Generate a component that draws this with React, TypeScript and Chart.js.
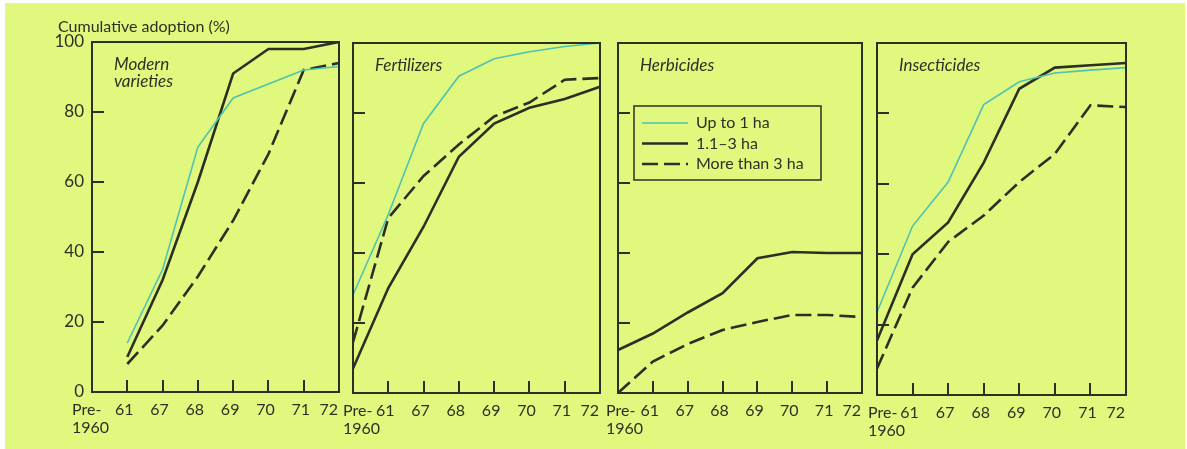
import React, { useEffect, useRef } from "react";
import { Chart, registerables } from "chart.js";
Chart.register(...registerables);

// ---------- data ----------
const categories: (string | string[])[] = [["Pre-", "1960"], "61", "67", "68", "69", "70", "71", "72"];
const seriesNames = ["Up to 1 ha", "1.1–3 ha", "More than 3 ha"];
const yAxisTitle = "Cumulative adoption (%)";
const panelTitles = [["Modern", "varieties"], ["Fertilizers"], ["Herbicides"], ["Insecticides"]];

const modernSmall = [null, 14, 35, 70, 84, 88, 92, 93];
const modernMedium = [null, 10, 32, 60, 91, 98, 98, 100];
const modernLarge = [null, 8, 19, 33, 49, 68, 92, 94];

const fertSmall = [28, 51, 77, 90.5, 95.5, 97.5, 99, 100];
const fertMedium = [7, 30, 47.5, 67.5, 77, 81.5, 84, 87.5];
const fertLarge = [14.5, 50, 62, 71, 79, 83, 89.5, 90];

const herbSmall = [null, null, null, null, null, null, null, null];
const herbMedium = [12.3, 17, 23, 28.5, 38.5, 40.3, 40, 40];
const herbLarge = [0, 9, 14, 18, 20.3, 22.3, 22.3, 21.7];

const insSmall = [23.5, 48, 60.5, 82.5, 89, 91.5, 92.3, 93];
const insMedium = [15.5, 40, 49, 66, 87, 93, 93.7, 94.3];
const insLarge = [7.5, 30.5, 43.5, 51, 60.5, 68.5, 82.3, 81.8];

const yMin = 0;
const yMax = 100;
const yStep = 20;

// ---------- styles ----------
const W = 1187;
const H = 449;
const BG = "#e0f87e";
const DARK = "#2c3024";
const CYAN = "#4fc2b2";
const FONT = "Lato, 'Noto Sans', sans-serif";

type PanelGeom = { left: number; right: number; top: number; bottom: number; L: number; R: number; firstDx: number };
const geoms: PanelGeom[] = [
  { left: 92, right: 339, top: 42, bottom: 392, L: 50, R: 16, firstDx: 20 },
  { left: 353, right: 600, top: 43, bottom: 393, L: 36, R: 16, firstDx: 10 },
  { left: 618, right: 862, top: 43, bottom: 393, L: 36, R: 16, firstDx: 12 },
  { left: 877, right: 1126, top: 43, bottom: 395, L: 36, R: 16, firstDx: 9 },
];

const panelData = [
  [modernSmall, modernMedium, modernLarge],
  [fertSmall, fertMedium, fertLarge],
  [herbSmall, herbMedium, herbLarge],
  [insSmall, insMedium, insLarge],
];

function makeDecor(idx: number) {
  const g = geoms[idx];
  return {
    id: "decor" + idx,
    afterDraw(chart: any) {
      const ctx = chart.ctx as CanvasRenderingContext2D;
      const a = chart.chartArea;
      const xs = chart.scales.x;
      const ys = chart.scales.y;
      ctx.save();
      ctx.strokeStyle = DARK;
      ctx.lineWidth = 2;
      ctx.setLineDash([]);
      ctx.strokeRect(a.left, a.top, a.right - a.left, a.bottom - a.top);
      ctx.beginPath();
      for (let v = yMin + yStep; v < yMax; v += yStep) {
        const y = Math.round(ys.getPixelForValue(v));
        ctx.moveTo(a.left, y);
        ctx.lineTo(a.left + 12, y);
      }
      const n = chart.data.labels.length;
      for (let i = 1; i < n - 1; i++) {
        const x = Math.round(xs.getPixelForTick(i));
        ctx.moveTo(x, a.bottom);
        ctx.lineTo(x, a.bottom - 12);
      }
      ctx.stroke();
      // category labels under the axis
      ctx.fillStyle = DARK;
      ctx.font = "16px " + FONT;
      ctx.textBaseline = "alphabetic";
      chart.data.labels.forEach((lab: any, i: number) => {
        const lines = Array.isArray(lab) ? lab : [lab];
        const x = xs.getPixelForTick(i);
        let tx = x - 3;
        ctx.textAlign = "center";
        if (i === 0) { ctx.textAlign = "left"; tx = x - g.firstDx; }
        if (i === n - 1) { ctx.textAlign = "right"; tx = x - 1; }
        lines.forEach((t: string, k: number) => ctx.fillText(t, tx, a.bottom + 23 + k * 17.5));
      });
      // panel title
      ctx.textAlign = "left";
      ctx.font = "italic 17px " + FONT;
      panelTitles[idx].forEach((t, k) => {
        ctx.fillText(t, a.left + 22, a.top + 28 + k * 17);
      });
      if (idx === 0) {
        ctx.font = "16px " + FONT;
        ctx.fillText(yAxisTitle, a.left - 34, a.top - 10);
      }
      if (idx === 2) {
        const bx = a.left + 16;
        const by = a.top + 63;
        ctx.lineWidth = 1.5;
        ctx.strokeRect(bx, by, 187, 74);
        ctx.font = "16px " + FONT;
        ctx.textBaseline = "middle";
        chart.data.datasets.forEach((ds: any, k: number) => {
          const yy = by + 17 + k * 20.5;
          ctx.beginPath();
          ctx.strokeStyle = ds.borderColor;
          ctx.lineWidth = ds.borderWidth;
          ctx.setLineDash(ds.borderDash || []);
          ctx.moveTo(bx + 8, yy);
          ctx.lineTo(bx + 54, yy);
          ctx.stroke();
          ctx.setLineDash([]);
          ctx.fillStyle = DARK;
          ctx.fillText(ds.label, bx + 62, yy);
        });
      }
      ctx.restore();
    },
  };
}

function Panel({ idx }: { idx: number }) {
  const ref = useRef<HTMLCanvasElement>(null);
  const g = geoms[idx];
  const cw = g.right - g.left + g.L + g.R;
  useEffect(() => {
    const canvas = ref.current!;
    const [s, m, l] = panelData[idx];
    const chart = new Chart(canvas, {
      type: "line",
      data: {
        labels: categories as any,
        datasets: [
          { label: seriesNames[0], data: s as any, borderColor: CYAN, borderWidth: 1.6, pointRadius: 0, tension: 0 },
          { label: seriesNames[1], data: m as any, borderColor: DARK, borderWidth: 2.6, pointRadius: 0, tension: 0 },
          { label: seriesNames[2], data: l as any, borderColor: DARK, borderWidth: 2.6, borderDash: [16, 6], pointRadius: 0, tension: 0 },
        ],
      },
      options: {
        animation: false,
        responsive: false,
        maintainAspectRatio: false,
        devicePixelRatio: 1,
        layout: { padding: { top: g.top, right: g.R, left: 0, bottom: 0 } },
        plugins: { legend: { display: false }, tooltip: { enabled: false }, title: { display: false } },
        scales: {
          x: {
            type: "category",
            offset: false,
            grid: { display: false, drawTicks: false },
            border: { display: false },
            ticks: { display: false, autoSkip: false },
            afterFit: (sc: any) => { sc.height = H - g.bottom; },
          },
          y: {
            min: yMin,
            max: yMax,
            grid: { display: false, drawTicks: false },
            border: { display: false },
            ticks: { display: idx === 0, stepSize: yStep, color: DARK, font: { family: FONT, size: 17 }, padding: 8 },
            afterFit: (sc: any) => { sc.width = g.L; },
          },
        },
      } as any,
      plugins: [makeDecor(idx)],
    });
    const a = chart.chartArea;
    const dxL = a.left - g.L;
    const dxR = cw - g.R - a.right;
    if (Math.abs(dxL) > 0.5 || Math.abs(dxR) > 0.5) {
      chart.resize(cw + dxL + dxR, H);
      canvas.style.left = g.left - g.L - dxL + "px";
    }
    return () => chart.destroy();
  }, [idx]);
  return (
    <canvas
      ref={ref}
      width={cw}
      height={H}
      style={{ position: "absolute", left: g.left - g.L, top: 0, width: cw, height: H }}
    />
  );
}

export default function App() {
  return (
    <div style={{ position: "absolute", left: 0, top: 0, width: W, height: H, background: "#fff", overflow: "hidden" }}>
      <div style={{ position: "absolute", left: 5, top: 3, width: 1180, height: 446, background: BG }} />
      {[0, 1, 2, 3].map((i) => (
        <Panel key={i} idx={i} />
      ))}
    </div>
  );
}
